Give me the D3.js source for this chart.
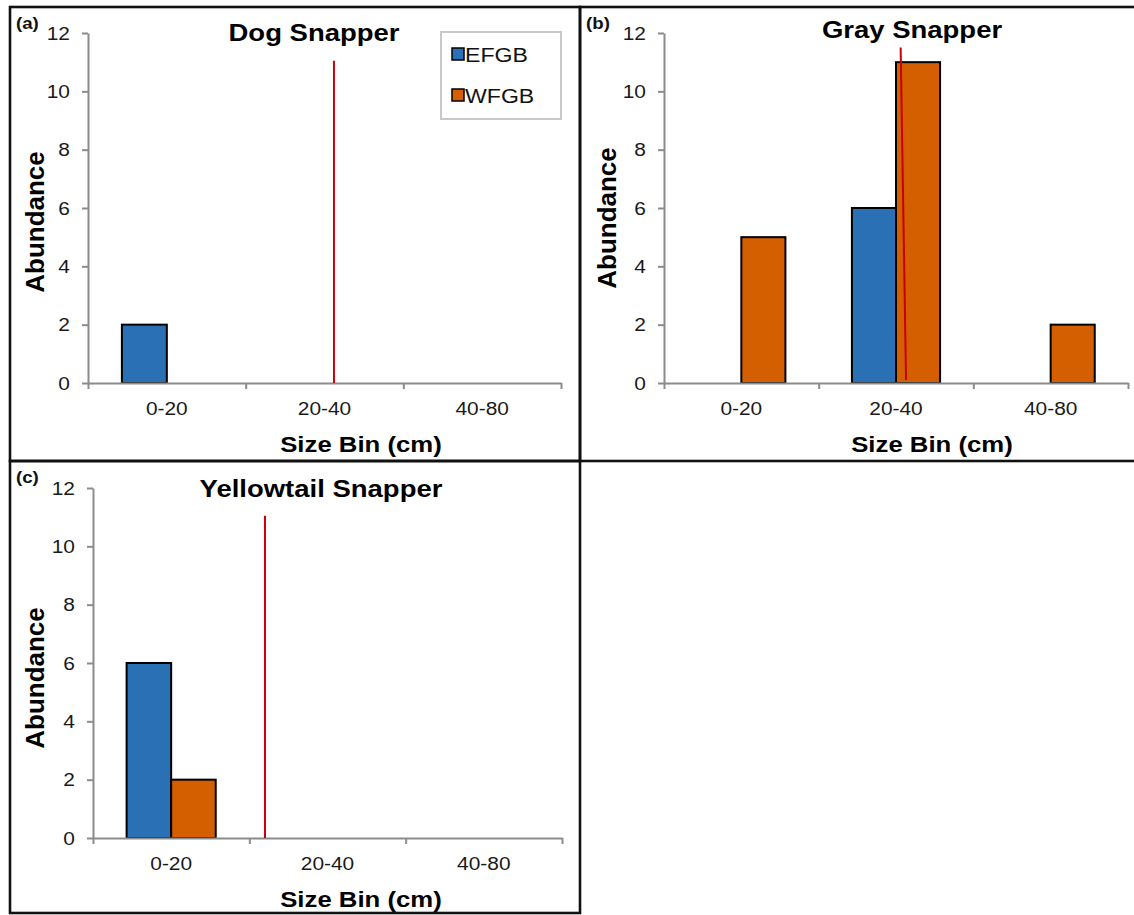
<!DOCTYPE html>
<html>
<head>
<meta charset="utf-8">
<script src="https://cdn.jsdelivr.net/npm/d3@7"></script>
<style>
  html, body { margin: 0; padding: 0; background: #fff; }
  svg { display: block; font-family: "Liberation Sans", Arial, sans-serif; }
</style>
</head>
<body>
<svg id="chart" width="1134" height="915"></svg>
<script>
// Size bins and their boundaries (cm)
const categories = ["0-20", "20-40", "40-80"];
const binEdges = [0, 20, 40, 80];
const seriesNames = ["EFGB", "WFGB"];
const seriesColors = ["#2a70b4", "#d45f00"];
const yTicks = [0, 2, 4, 6, 8, 10, 12];

// Abundance per size bin
const dogEFGB = [2, 0, 0];
const dogWFGB = [0, 0, 0];
const grayEFGB = [0, 6, 0];
const grayWFGB = [5, 11, 2];
const yellowEFGB = [6, 0, 0];
const yellowWFGB = [2, 0, 0];

// Reference (size at maturity) lines: [length cm, abundance] endpoints
const dogMaturity = [[31.2, 0], [31.2, 11.05]];
const grayMaturity = [[31.3, 0.1], [30.6, 11.5]];
const yellowMaturity = [[22.0, 0], [22.0, 11.05]];

const svg = d3.select("#chart");

// Horizontally widen a text element around its own anchor point
function widen(sel, s) {
  sel.each(function () {
    const t = d3.select(this);
    const x = +t.attr("x") || 0;
    const y = +t.attr("y") || 0;
    const prev = t.attr("transform") || "";
    t.attr("x", 0).attr("y", 0)
     .attr("transform", `${prev} translate(${x},${y}) scale(${s},1)`);
  });
}
const SX = 1.17;

// Panel frames
const frames = [
  { x: 10, y: 7, w: 570, h: 454 },
  { x: 580, y: 7, w: 560, h: 454 },
  { x: 10, y: 461, w: 570, h: 452 }
];
svg.append("g").selectAll("rect").data(frames).join("rect")
  .attr("x", d => d.x).attr("y", d => d.y)
  .attr("width", d => d.w).attr("height", d => d.h)
  .attr("fill", "none").attr("stroke", "#111").attr("stroke-width", 2.6);

const panels = [
  { tag: "(a)", title: "Dog Snapper", efgb: dogEFGB, wfgb: dogWFGB, mat: dogMaturity,
    left: 88, right: 561, top: 33, bottom: 383, ox: 10, oy: 7,
    titleX: 314, titleY: 41, yTitleX: 44, yTitleY: 222, xTitleX: 361, legend: true },
  { tag: "(b)", title: "Gray Snapper", efgb: grayEFGB, wfgb: grayWFGB, mat: grayMaturity,
    left: 664, right: 1128, top: 33, bottom: 383, ox: 580, oy: 7,
    titleX: 912, titleY: 38, yTitleX: 616, yTitleY: 218, xTitleX: 932, legend: false },
  { tag: "(c)", title: "Yellowtail Snapper", efgb: yellowEFGB, wfgb: yellowWFGB, mat: yellowMaturity,
    left: 93, right: 562, top: 488, bottom: 838, ox: 10, oy: 461,
    titleX: 321, titleY: 497, yTitleX: 44, yTitleY: 678, xTitleX: 361, legend: false }
];

panels.forEach(p => {
  const g = svg.append("g");
  const W = p.right - p.left;

  const y = d3.scaleLinear().domain([0, 12]).range([p.bottom, p.top]);
  const xBand = d3.scaleBand().domain(categories).range([p.left, p.right])
    .paddingInner(0.43).paddingOuter(0.215);
  const xSub = d3.scaleBand().domain(seriesNames).range([0, xBand.bandwidth()]);
  // continuous length scale: each bin occupies one equal step
  const xLen = d3.scaleLinear().domain(binEdges)
    .range(binEdges.map((_, i) => p.left + i * W / categories.length));

  // Bars
  const rows = categories.map((c, i) => ({ cat: c, vals: [p.efgb[i], p.wfgb[i]] }));
  const barData = [];
  rows.forEach(r => r.vals.forEach((v, j) => { if (v > 0) barData.push({ cat: r.cat, s: j, v }); }));
  g.append("g").selectAll("rect").data(barData).join("rect")
    .attr("x", d => xBand(d.cat) + xSub(seriesNames[d.s]))
    .attr("y", d => y(d.v))
    .attr("width", xSub.bandwidth())
    .attr("height", d => y(0) - y(d.v))
    .attr("fill", d => seriesColors[d.s])
    .attr("stroke", "#000").attr("stroke-width", 2);

  // Y axis
  const ya = g.append("g").attr("transform", `translate(${p.left},0)`)
    .call(d3.axisLeft(y).tickValues(yTicks).tickSize(6).tickSizeOuter(0).tickPadding(12));
  ya.select(".domain").attr("stroke", "#8c8c8c").attr("stroke-width", 2);
  ya.selectAll(".tick line").attr("stroke", "#8c8c8c").attr("stroke-width", 2);
  ya.selectAll(".tick text").style("font-size", "19px").attr("fill", "#1a1a1a")
    .style("font-family", "'Liberation Sans', Arial, sans-serif");
  widen(ya.selectAll(".tick text"), 1.1);

  // X axis: boundary ticks
  const xa = g.append("g").attr("transform", `translate(0,${p.bottom})`)
    .call(d3.axisBottom(xLen).tickValues(binEdges).tickFormat("").tickSize(6).tickSizeOuter(0));
  xa.select(".domain").attr("stroke", "#8c8c8c").attr("stroke-width", 2);
  xa.selectAll(".tick line").attr("stroke", "#8c8c8c").attr("stroke-width", 2);
  // X axis: category labels
  const xl = g.append("g").attr("transform", `translate(0,${p.bottom})`)
    .call(d3.axisBottom(xBand).tickSize(0).tickPadding(19));
  xl.select(".domain").remove();
  xl.selectAll(".tick text").style("font-size", "19px").attr("fill", "#1a1a1a")
    .style("font-family", "'Liberation Sans', Arial, sans-serif");
  widen(xl.selectAll(".tick text"), 1.1);

  // Size-at-maturity reference line
  g.append("path").datum(p.mat)
    .attr("d", d3.line().x(d => xLen(d[0])).y(d => y(d[1])))
    .attr("stroke", "#c8000a").attr("stroke-width", 2).attr("fill", "none");

  // Titles and labels
  const title = g.append("text").attr("x", p.titleX).attr("y", p.titleY)
    .attr("text-anchor", "middle").attr("font-weight", "bold").style("font-size", "23.5px")
    .attr("fill", "#000").text(p.title);
  widen(title, SX);

  const tag = g.append("text").attr("x", p.ox + 6).attr("y", p.oy + 22)
    .attr("font-weight", "bold").style("font-size", "17px").attr("fill", "#111").text(p.tag);
  widen(tag, 1.1);

  g.append("text")
    .attr("transform", `translate(${p.yTitleX},${p.yTitleY}) rotate(-90)`)
    .attr("text-anchor", "middle").attr("font-weight", "bold").style("font-size", "26px")
    .attr("fill", "#000").text("Abundance");

  const xt = g.append("text").attr("x", p.xTitleX).attr("y", p.bottom + 69)
    .attr("text-anchor", "middle").attr("font-weight", "bold").style("font-size", "22px")
    .attr("fill", "#000").text("Size Bin (cm)");
  widen(xt, SX);

  // Legend
  if (p.legend) {
    const lg = g.append("g");
    lg.append("rect").attr("x", 441).attr("y", 32).attr("width", 120).attr("height", 87)
      .attr("fill", "#fff").attr("stroke", "#c8c8c8").attr("stroke-width", 2);
    const items = lg.selectAll("g.item").data(seriesNames).join("g").attr("class", "item")
      .attr("transform", (d, i) => `translate(452,${48 + i * 41})`);
    items.append("rect").attr("width", 12).attr("height", 12)
      .attr("fill", (d, i) => seriesColors[i]).attr("stroke", "#000").attr("stroke-width", 1.5);
    const lt = items.append("text").attr("x", 13).attr("y", 14)
      .style("font-size", "21px").attr("fill", "#111").text(d => d);
    widen(lt, 1.1);
  }
});
</script>
</body>
</html>
